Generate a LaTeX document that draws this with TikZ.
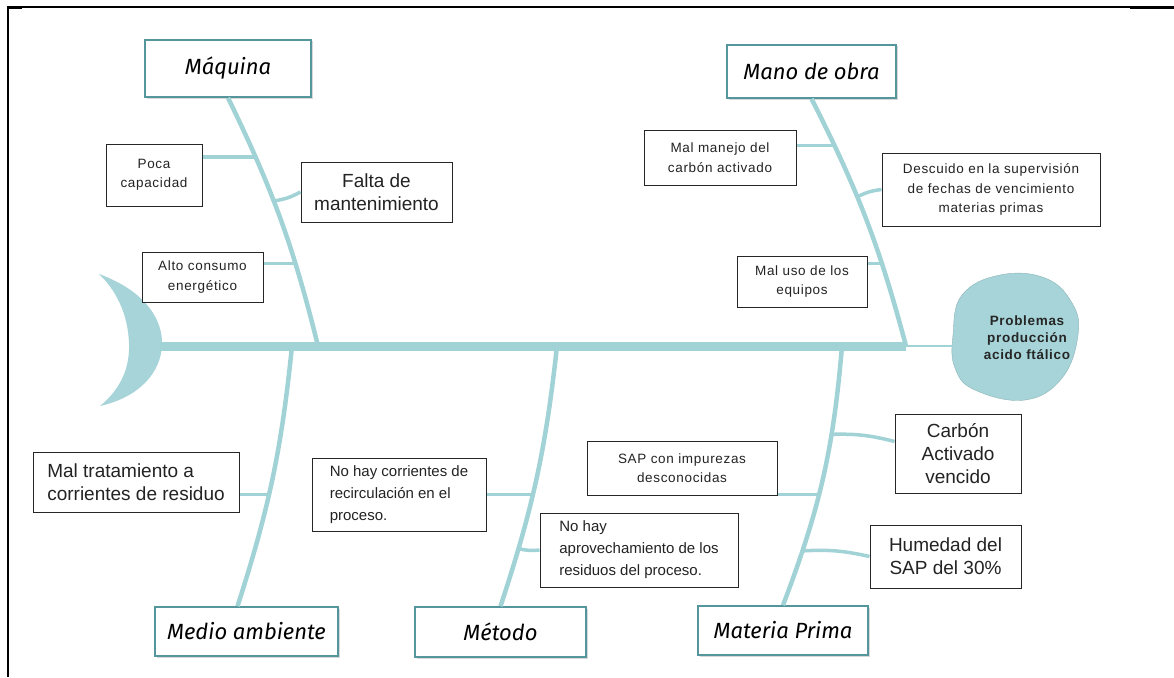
\documentclass[tikz,border=0pt]{standalone}
\usepackage{fontspec}
\setmainfont{Liberation Sans}
\newfontfamily\catfont{Fira Sans}
\newfontfamily\causefont{Liberation Sans}[LetterSpace=5]
\usetikzlibrary{shadows}
\definecolor{bonecol}{RGB}{160,210,214}
\definecolor{bordercol}{RGB}{84,150,156}
\definecolor{headcol}{RGB}{166,212,216}
\definecolor{inkcol}{RGB}{35,35,35}
\begin{document}
\begin{tikzpicture}
	[x=1pt,y=-1pt,
	cat/.style={draw=bordercol,line width=1.6pt,fill=white,
		drop shadow={shadow xshift=1.5pt,shadow yshift=-1.5pt,fill=black!30},
		font=\catfont\itshape\fontsize{22}{24}\selectfont,inner sep=0pt},
	cause/.style={draw=black!85,line width=1pt,fill=white,align=center,
		inner sep=0pt,text=inkcol},
	small/.style={cause,font=\causefont\fontsize{13.5}{19.5}\selectfont},
	mid/.style={cause,align=left,font=\fontsize{15}{22}\selectfont},
	large/.style={cause,font=\fontsize{19}{23}\selectfont},
	bone/.style={draw=bonecol,line width=4.5pt},
	twig/.style={draw=bonecol,line width=3.5pt}]
	\useasboundingbox (0,0) rectangle (1174,677);
	\draw[line width=1.2pt] (8,677) -- (8,7) -- (1174,7);
	\draw[line width=2.5pt] (8,8) -- (22,8);
	\draw[line width=2.5pt] (1130,8) -- (1174,8);
	\fill[headcol] (99,274) .. controls (148,292) and (163,322) .. (162,345)
		.. controls (161,372) and (140,397) .. (100,406)
		.. controls (122,388) and (130,366) .. (129,343)
		.. controls (128,318) and (119,293) .. (99,274) -- cycle;
	\filldraw[fill=headcol,draw=headcol!85!black,line width=0.4pt]
		plot[smooth cycle,tension=0.7] coordinates {(953,335) (962,295) (1000,275)
		(1045,278) (1072,303) (1078,335) (1062,378) (1025,400) (975,390) (955,368)};
	\node[font=\causefont\bfseries\fontsize{13.5}{17}\selectfont,align=center,
		text=black!85] (head) at (1027,338) {Problemas\\producción\\acido ftálico};
	\coordinate (tail) at (160,346);
	\coordinate (neck) at (906,346);
	\coordinate (headL) at (953,346);
	\coordinate (s1) at (318,346);
	\coordinate (s3) at (292,346);
	\coordinate (s4) at (557,346);
	\coordinate (s5) at (842,346);
	\draw[draw=bonecol,line width=9pt] (tail) -- (neck);
	\draw[draw=bonecol,line width=1.5pt] (neck) -- (headL);

	\node[cat,minimum width=166,minimum height=57] (maq) at (228,68.5) {Máquina};
	\node[cat,minimum width=169,minimum height=53] (mano) at (811.5,71.5) {Mano de obra};
	\node[cat,minimum width=183,minimum height=49] (medio) at (246.5,631.5) {Medio ambiente};
	\node[cat,minimum width=171,minimum height=50] (metodo) at (500.5,632) {Método};
	\node[cat,minimum width=170,minimum height=49] (materia) at (783,630.5) {Materia Prima};

	\node[small,minimum width=96,minimum height=62] (poca) at (154,175) {Poca\\capacidad};
	\node[large,minimum width=151,minimum height=60] (falta) at (376.5,192) {Falta de\\mantenimiento};
	\node[small,minimum width=121,minimum height=50] (alto) at (202.5,277) {Alto consumo\\energético};
	\node[small,minimum width=152,minimum height=55] (manejo) at (720,157.5) {Mal manejo del\\carbón activado};
	\node[small,minimum width=218,minimum height=73] (descuido) at (991,189.5)
		{Descuido en la supervisión\\de fechas de vencimiento\\materias primas};
	\node[small,minimum width=130,minimum height=51] (uso) at (802,281.5) {Mal uso de los\\equipos};
	\node[large,align=left,minimum width=206,minimum height=60] (tratam) at (136,482)
		{Mal tratamiento a\\corrientes de residuo};
	\node[mid,minimum width=174,minimum height=73] (recirc) at (399,494.5)
		{No hay corrientes de\\recirculación en el\\proceso.};
	\node[mid,minimum width=198,minimum height=74] (aprov) at (639,550)
		{No hay\\aprovechamiento de los\\residuos del proceso.};
	\node[small,minimum width=190,minimum height=54] (sap) at (682,468) {SAP con impurezas\\desconocidas};
	\node[large,minimum width=126,minimum height=79] (carbon) at (958,453.5) {Carbón\\Activado\\vencido};
	\node[large,minimum width=151,minimum height=63] (humedad) at (945.5,556.5) {Humedad del\\SAP del 30\%};

	\draw[bone] (maq.south) to[bend left=6] coordinate[pos=.23] (maq1)
		coordinate[pos=.42] (maq2) coordinate[pos=.69] (maq3) (s1);
	\draw[bone] (mano.south) to[bend left=6] coordinate[pos=.18] (mano1)
		coordinate[pos=.4] (mano2) coordinate[pos=.69] (mano3) (neck);
	\draw[bone] ([xshift=-9pt]medio.north) to[bend right=6] coordinate[pos=.43] (medio1) (s3);
	\draw[bone] (metodo.north) to[bend right=6] coordinate[pos=.21] (met1)
		coordinate[pos=.43] (met2) (s4);
	\draw[bone] (materia.north) to[bend right=8] coordinate[pos=.2] (mat1)
		coordinate[pos=.43] (mat2) coordinate[pos=.68] (mat3) (s5);

	\draw[twig] (poca.east |- maq1) -- (maq1);
	\draw[twig] (falta.west) to[bend left=10] (maq2);
	\draw[twig] (alto.east |- maq3) -- (maq3);
	\draw[twig] (manejo.east |- mano1) -- (mano1);
	\draw[twig] (descuido.west) to[bend right=10] (mano2);
	\draw[twig] (uso.east |- mano3) -- (mano3);
	\draw[twig] (tratam.east |- medio1) -- (medio1);
	\draw[twig] (recirc.east |- met2) -- (met2);
	\draw[twig] (aprov.west) to[bend left=10] (met1);
	\draw[twig] (sap.east |- mat2) -- (mat2);
	\draw[twig] ([yshift=12pt]carbon.west) to[bend right=8] (mat3);
	\draw[twig] (humedad.west) to[bend right=8] (mat1);
\end{tikzpicture}
\end{document}
